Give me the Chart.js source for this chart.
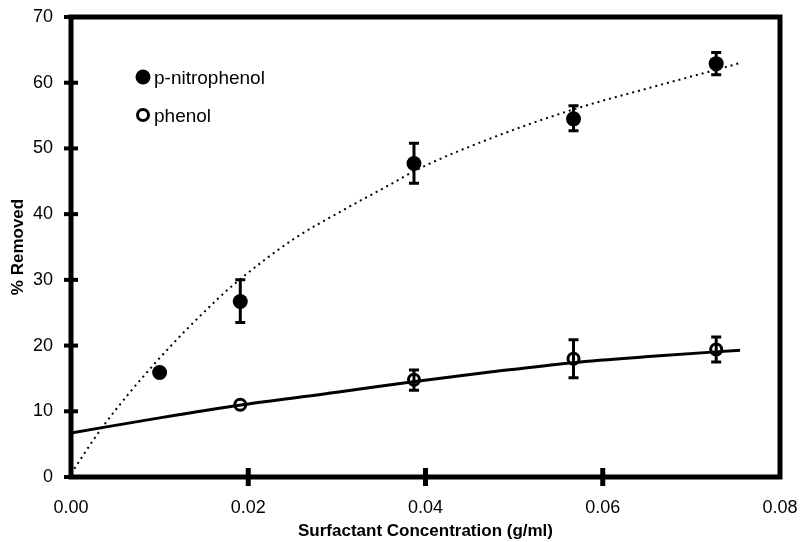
<!DOCTYPE html>
<html><head><meta charset="utf-8">
<script src="https://cdn.jsdelivr.net/npm/chart.js@4/dist/chart.umd.min.js"></script>
<style>html,body{margin:0;padding:0;background:#fff}</style>
</head><body>
<canvas id="c" width="804" height="542"></canvas>
<script>
// ---- data ----
const nitroX    = [0.0100, 0.0191, 0.0387, 0.0567, 0.0728];
const nitroY    = [15.9, 26.7, 47.7, 54.5, 62.9];
const nitroHigh = [null, 30.0, 50.8, 56.5, 64.6];
const nitroLow  = [null, 23.5, 44.7, 52.7, 61.2];

const phenolX    = [0.0191, 0.0387, 0.0567, 0.0728];
const phenolY    = [11.0, 14.8, 18.0, 19.4];
const phenolHigh = [null, 16.3, 20.9, 21.3];
const phenolLow  = [null, 13.2, 15.1, 17.5];

// trend curves
const nitroFitX = [0, 0.0035, 0.0096, 0.0164, 0.0190, 0.0250, 0.0307, 0.0352, 0.0397, 0.0475, 0.0566, 0.0655, 0.0742, 0.0755];
const nitroFitY = [0.5, 7.5, 17.5, 26.9, 30.0, 36.1, 40.6, 43.9, 47.2, 51.6, 55.9, 59.3, 62.5, 63.0];
const phenolFitX = [0, 0.0100, 0.0200, 0.0300, 0.0386, 0.0475, 0.0566, 0.0660, 0.0755];
const phenolFitY = [6.7, 9.0, 11.1, 12.9, 14.5, 16.0, 17.4, 18.4, 19.3];

const xTicks = [0, 0.02, 0.04, 0.06, 0.08];
const yTicks = [0, 10, 20, 30, 40, 50, 60, 70];
const xTitle = 'Surfactant Concentration (g/ml)';
const yTitle = '% Removed';
const seriesNames = ['p-nitrophenol', 'phenol'];

const pts = (xs, ys) => xs.map((x, i) => ({x, y: ys[i]}));
const FONT = 'Arial, "Liberation Sans", sans-serif';

const errorBars = {
  id: 'errorBars',
  afterDatasetsDraw(chart) {
    const {ctx, scales: {x, y}} = chart;
    ctx.save();
    ctx.strokeStyle = '#000';
    const sets = [[nitroX, nitroLow, nitroHigh], [phenolX, phenolLow, phenolHigh]];
    sets.forEach(([xs, lo, hi]) => {
      xs.forEach((xv, i) => {
        if (lo[i] == null) return;
        const px = x.getPixelForValue(xv);
        const p1 = y.getPixelForValue(lo[i]);
        const p2 = y.getPixelForValue(hi[i]);
        ctx.lineWidth = 3;
        ctx.beginPath(); ctx.moveTo(px, p1); ctx.lineTo(px, p2); ctx.stroke();
        ctx.beginPath();
        ctx.moveTo(px - 5, p1); ctx.lineTo(px + 5, p1);
        ctx.moveTo(px - 5, p2); ctx.lineTo(px + 5, p2);
        ctx.stroke();
      });
    });
    ctx.restore();
  }
};

const frame = {
  id: 'frame',
  afterDraw(chart) {
    const {ctx, chartArea: a, scales: {x, y}} = chart;
    ctx.save();
    ctx.strokeStyle = '#000';
    ctx.fillStyle = '#000';
    ctx.lineWidth = 5;
    ctx.strokeRect(a.left, a.top, a.right - a.left, a.bottom - a.top);
    // y ticks crossing the left axis
    yTicks.forEach(v => {
      const py = y.getPixelForValue(v);
      ctx.fillRect(a.left - 7, py - 2, 14, 4);
    });
    // x ticks crossing the bottom axis
    xTicks.forEach(v => {
      if (v === 0 || v === 0.08) return;
      const px = x.getPixelForValue(v);
      ctx.fillRect(px - 2.5, a.bottom - 9, 5, 18);
    });
    // legend
    ctx.beginPath(); ctx.arc(143, 77, 7.5, 0, Math.PI * 2); ctx.fill();
    ctx.lineWidth = 3;
    ctx.beginPath(); ctx.arc(143, 115, 5.5, 0, Math.PI * 2); ctx.stroke();
    ctx.font = '19px ' + FONT;
    ctx.textBaseline = 'middle';
    ctx.textAlign = 'left';
    ctx.fillText(seriesNames[0], 154, 79);
    ctx.fillText(seriesNames[1], 154, 117);
    ctx.restore();
  }
};

new Chart(document.getElementById('c'), {
  type: 'scatter',
  data: {
    datasets: [
      {label: seriesNames[0] + ' fit', data: pts(nitroFitX, nitroFitY), showLine: true, pointRadius: 0,
       borderColor: '#000', borderWidth: 2, borderDash: [2, 4], tension: 0.4, cubicInterpolationMode: 'monotone'},
      {label: seriesNames[1] + ' fit', data: pts(phenolFitX, phenolFitY), showLine: true, pointRadius: 0,
       borderColor: '#000', borderWidth: 3, tension: 0.4, cubicInterpolationMode: 'monotone'},
      {label: seriesNames[0], data: pts(nitroX, nitroY), pointRadius: 7.5, pointBackgroundColor: '#000',
       pointBorderColor: '#000', pointBorderWidth: 0},
      {label: seriesNames[1], data: pts(phenolX, phenolY), pointRadius: 5.5, pointBackgroundColor: '#fff',
       pointBorderColor: '#000', pointBorderWidth: 3}
    ]
  },
  options: {
    responsive: false,
    animation: false,
    layout: {padding: {top: 17, right: 24, left: 0, bottom: 0}},
    plugins: {legend: {display: false}, tooltip: {enabled: false}},
    scales: {
      x: {
        type: 'linear', min: 0, max: 0.08,
        afterBuildTicks: s => { s.ticks = xTicks.map(v => ({value: v})); },
        ticks: {callback: v => v.toFixed(2), color: '#000', font: {family: FONT, size: 18}, padding: 12, maxRotation: 0},
        grid: {display: false}, border: {display: false},
        title: {display: true, text: xTitle, color: '#000', font: {family: FONT, size: 17, weight: 'bold'}, padding: {top: 0, bottom: 0}},
        afterFit: s => { s.height = 65; s.paddingLeft = 0; s.paddingRight = 0; }
      },
      y: {
        type: 'linear', min: 0, max: 70,
        afterBuildTicks: s => { s.ticks = yTicks.map(v => ({value: v})); },
        ticks: {color: '#000', font: {family: FONT, size: 18}, padding: 10},
        grid: {display: false}, border: {display: false},
        title: {display: true, text: yTitle, color: '#000', font: {family: FONT, size: 17, weight: 'bold'}, padding: {top: 8, bottom: 0}},
        afterFit: s => { s.width = 71; s.paddingTop = 0; s.paddingBottom = 0; }
      }
    }
  },
  plugins: [errorBars, frame]
});
</script>
</body></html>
